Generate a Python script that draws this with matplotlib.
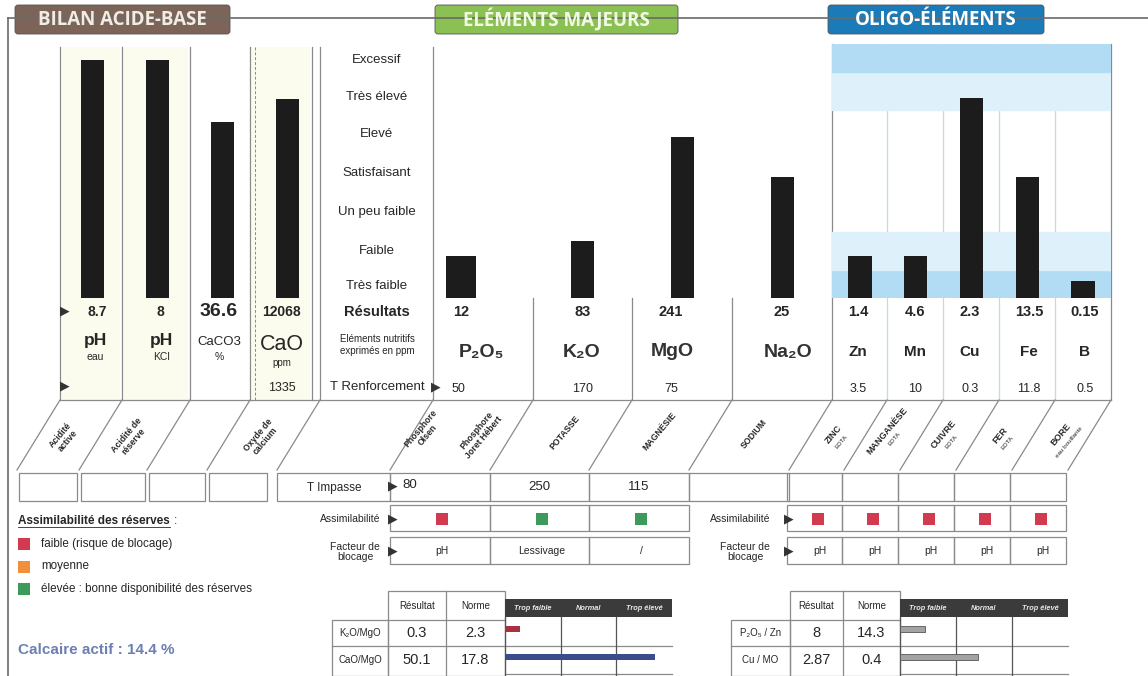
import matplotlib
matplotlib.use('Agg')
import matplotlib.pyplot as plt
from matplotlib.patches import Rectangle, FancyBboxPatch

plt.rcParams['font.family'] = ['Liberation Sans', 'DejaVu Sans']

W, H = 1148, 676

# ---- données ----
levels = ['Excessif', 'Très élevé', 'Elevé', 'Satisfaisant',
          'Un peu faible', 'Faible', 'Très faible']
level_pos = [93.7, 79.1, 64.6, 49.2, 33.9, 18.5, 4.7]   # échelle 0-100

acid_results = ['8.7', '8', '36.6', '12068']
acid_index = [93.7, 93.7, 69.3, 78.3]

maj_names = ['P₂O₅', 'K₂O', 'MgO', 'Na₂O']
maj_results = ['12', '83', '241', '25']
maj_index = [16.5, 22.4, 63.4, 47.6]
maj_renfort = ['50', '170', '75', '']
maj_impasse = ['80', '250', '115']
maj_assim = ['faible', 'élevée', 'élevée']
maj_blocage = ['pH', 'Lessivage', '/']

oligo_names = ['Zn', 'Mn', 'Cu', 'Fe', 'B']
oligo_results = ['1.4', '4.6', '2.3', '13.5', '0.15']
oligo_index = [16.5, 16.5, 78.7, 47.6, 6.7]
oligo_renfort = ['3.5', '10', '0.3', '11.8', '0.5']
oligo_assim = ['faible'] * 5
oligo_blocage = ['pH'] * 5

ratio_maj = ['K₂O/MgO', 'CaO/MgO']
ratio_maj_res = ['0.3', '50.1']
ratio_maj_norme = ['2.3', '17.8']
ratio_maj_pos = [0.27, 2.7]        # 0-1 trop faible, 1-2 normal, 2-3 trop élevé
ratio_oligo = ['P₂O₅ / Zn', 'Cu / MO']
ratio_oligo_res = ['8', '2.87']
ratio_oligo_norme = ['14.3', '0.4']
ratio_oligo_pos = [0.45, 1.4]

assim_colors = {'faible': '#d23a50', 'moyenne': '#f0903c', 'élevée': '#3c9a5c'}

# ---- figure ----
fig = plt.figure(figsize=(W / 100, H / 100), dpi=100)
ax = fig.add_axes([0, 0, 1, 1])
ax.set_xlim(0, W)
ax.set_ylim(H, 0)
ax.axis('off')

TXT = '#262626'
LINE = '#8a8a8a'


def px_axes(x0, y0, x1, y1):
    a = fig.add_axes([x0 / W, 1 - y1 / H, (x1 - x0) / W, (y1 - y0) / H])
    a.set_facecolor('none')
    for s in a.spines.values():
        s.set_visible(False)
    a.set_xticks([])
    a.set_yticks([])
    return a


def arrow(x, y, size=9):
    ax.text(x, y, '▶', ha='center', va='center', fontsize=size,
            color='#333333', family='DejaVu Sans')


def box(x0, y0, x1, y1, lw=0.9, color=LINE, fc='none'):
    ax.add_patch(Rectangle((x0, y0), x1 - x0, y1 - y0, fill=fc != 'none',
                           facecolor=fc, edgecolor=color, linewidth=lw))


def hline(y, x0, x1, lw=0.9, color=LINE):
    ax.plot([x0, x1], [y, y], color=color, lw=lw)


def vline(x, y0, y1, lw=0.9, color=LINE, ls='-'):
    ax.plot([x, x], [y0, y1], color=color, lw=lw, ls=ls)


# cadre général et onglets
hline(18, 8, W, lw=1.2, color='#6a6a6a')
vline(8, 18, H, lw=1.2, color='#6a6a6a')

tabs = [(15, 230, 'BILAN ACIDE-BASE', '#7c6558', '#f1ece6'),
        (435, 678, 'ELÉMENTS MAJEURS', '#8bc152', '#f2f9e4'),
        (828, 1044, 'OLIGO-ÉLÉMENTS', '#1b7bb8', '#ffffff')]
for x0, x1, lab, fc, tc in tabs:
    ax.add_patch(FancyBboxPatch((x0, 5), x1 - x0, 29,
                                boxstyle='round,pad=0,rounding_size=3',
                                facecolor=fc, edgecolor='#555555', lw=0.6))
    ax.text((x0 + x1) / 2, 20, lab, ha='center', va='center', fontsize=13.5,
            fontweight='bold', color=tc, family='Open Sans')

# colonnes
acid_cols = [(60, 122), (122, 190), (190, 250), (250, 312)]
maj_cols = [(433, 533), (533, 632), (632, 732), (732, 832)]
oligo_cols = [(832, 887), (887, 943), (943, 999), (999, 1055), (1055, 1111)]

for i in (0, 1, 3):
    a, b = acid_cols[i]
    ax.add_patch(Rectangle((a + 2, 47), b - a - 4, 353, facecolor='#fcfcee',
                           edgecolor='none'))

for xb in [60, 122, 190, 250, 312, 320, 433]:
    vline(xb, 47, 400)
vline(255, 47, 400, ls=(0, (3, 2)), lw=0.7)
for xb in [533, 632, 732]:
    vline(xb, 298, 400)
for xb in [832, 1111]:
    vline(xb, 44, 400)
for xb in [887, 943, 999, 1055]:
    vline(xb, 44, 400, color='#c5d8e4')
hline(400, 60, 1111)

# graphiques à barres
ax_acid = px_axes(60, 44, 320, 298)
ax_acid.bar(range(len(acid_index)), acid_index, width=0.36, color='#1c1c1c')
ax_acid.set_xlim(-0.5, 3.5)
ax_acid.set_ylim(0, 100)

ax_lev = px_axes(320, 44, 433, 298)
ax_lev.set_ylim(0, 100)
for lab, yp in zip(levels, level_pos):
    ax_lev.text(0.5, yp, lab, transform=ax_lev.get_yaxis_transform(),
                ha='center', va='center', fontsize=9.5, color=TXT)

ax_maj = px_axes(433, 44, 832, 298)
maj_x = [-0.22, 1, 2, 3]
maj_w = [0.3, 0.23, 0.23, 0.23]
ax_maj.bar(maj_x, maj_index, width=maj_w, color='#1c1c1c')
ax_maj.set_xlim(-0.5, 3.5)
ax_maj.set_ylim(0, 100)

ax_ol = px_axes(832, 44, 1111, 298)
for y0, y1, c in [(0, 11, '#b2dcf3'), (11, 26, '#def1fb'),
                  (74, 89, '#def1fb'), (89, 100, '#b2dcf3')]:
    ax_ol.axhspan(y0, y1, color=c, zorder=0)
ax_ol.bar(range(len(oligo_index)), oligo_index, width=0.42, color='#1c1c1c', zorder=2)
ax_ol.set_xlim(-0.5, 4.5)
ax_ol.set_ylim(0, 100)

# lignes de résultats
arrow(65, 311)
arrow(65, 386)
acid_fs = [10, 10, 14, 10]
acid_cx = [97, 160, 219, 281]
for cx, r, fs in zip(acid_cx, acid_results, acid_fs):
    ax.text(cx, 312, r, ha='center', va='center', fontsize=fs,
            fontweight='bold', color=TXT)
ax.text(95, 340, 'pH', ha='center', va='center', fontsize=12.5, fontweight='bold', color=TXT)
ax.text(95, 357, 'eau', ha='center', va='center', fontsize=7.5, color=TXT)
ax.text(161, 340, 'pH', ha='center', va='center', fontsize=12.5, fontweight='bold', color=TXT)
ax.text(161, 357, 'KCl', ha='center', va='center', fontsize=7.5, color=TXT)
ax.text(219, 342, 'CaCO3', ha='center', va='center', fontsize=9.5, color=TXT)
ax.text(219, 357, '%', ha='center', va='center', fontsize=7.5, color=TXT)
ax.text(282, 344, 'CaO', ha='center', va='center', fontsize=15.5, fontweight='medium',
        color=TXT)
ax.text(282, 363, 'ppm', ha='center', va='center', fontsize=7, color=TXT)
ax.text(282, 388, '1335', ha='center', va='center', fontsize=9, color=TXT)

ax.text(377, 312, 'Résultats', ha='center', va='center', fontsize=10.5,
        fontweight='bold', color=TXT)
ax.text(377, 345, 'Eléments nutritifs\nexprimés en ppm', ha='center', va='center',
        fontsize=7, color=TXT, linespacing=1.15)
ax.text(377, 387, 'T Renforcement', ha='center', va='center', fontsize=9.5, color=TXT)
arrow(436, 387)

maj_cx = [461, 583, 671, 782]
maj_name_cx = [481, 582, 672, 788]
for i in range(4):
    ax.text(maj_cx[i], 312, maj_results[i], ha='center', va='center',
            fontsize=10.5, fontweight='bold', color=TXT)
    ax.text(maj_name_cx[i], 352, maj_names[i], ha='center', va='center',
            fontsize=14, fontweight='bold', color='#333333')
    if maj_renfort[i]:
        ax.text(maj_cx[i] if i else 452, 389, maj_renfort[i],
                ha='center' if i else 'left', va='center', fontsize=9, color=TXT)

oligo_cx = [858, 915, 970, 1029, 1085]
for i in range(5):
    ax.text(oligo_cx[i], 312, oligo_results[i], ha='center', va='center',
            fontsize=10.5, fontweight='bold', color=TXT)
    ax.text(oligo_cx[i], 352, oligo_names[i], ha='center', va='center',
            fontsize=11, fontweight='bold', color=TXT)
    ax.text(oligo_cx[i], 389, oligo_renfort[i], ha='center', va='center',
            fontsize=9, color=TXT)

# étiquettes inclinées
SH = 43
for xb in [60, 122, 190, 250, 320, 433, 533, 632, 732, 832, 887, 943, 999, 1055, 1111]:
    ax.plot([xb, xb - SH], [400, 470], color=LINE, lw=0.9)

slanted = [(64, 438, 'Acidité\nactive', ''), (130, 438, 'Acidité de\nréserve', ''),
           (262, 438, 'Oxyde de\ncalcium', ''), (424, 432, 'Phosphore\nOlsen', ''),
           (480, 434, 'Phosphore\nJoret Hébert', ''), (565, 433, 'POTASSE', ''),
           (660, 431, 'MAGNÉSIE', ''), (754, 434, 'SODIUM', ''),
           (836, 436, 'ZINC', 'EDTA'), (889, 433, 'MANGANÈSE', 'EDTA'),
           (946, 436, 'CUIVRE', 'EDTA'), (1002, 437, 'FER', 'EDTA'),
           (1063, 436, 'BORE', 'eau bouillante')]
for x, y, main, sub in slanted:
    if sub:
        ax.text(x - 2, y - 2, main, ha='center', va='center', rotation=50,
                fontsize=6.5, fontweight='bold', color=TXT, rotation_mode='anchor')
        ax.text(x + 6, y + 6, sub, ha='center', va='center', rotation=50,
                fontsize=4.5, color=TXT, rotation_mode='anchor')
    else:
        ax.text(x, y, main, ha='center', va='center', rotation=50, fontsize=6.3,
                fontweight='bold', color=TXT, rotation_mode='anchor', linespacing=1.1)

# lignes inférieures
for a, b in acid_cols:
    box(a - SH + 2, 473, b - SH - 2, 501)
box(277, 473, 390, 501)
ax.text(334, 488, 'T Impasse', ha='center', va='center', fontsize=8.5, color=TXT)
arrow(393, 486)
for i, (a, b) in enumerate(maj_cols):
    box(a - SH, 473, b - SH, 501)
for i, v in enumerate(maj_impasse):
    a, b = maj_cols[i]
    if i == 0:
        ax.text(402, 485, v, ha='left', va='center', fontsize=9.5, color=TXT)
    else:
        ax.text((a + b) / 2 - SH, 487, v, ha='center', va='center', fontsize=9.5, color=TXT)
for a, b in oligo_cols:
    box(a - SH - 2, 473, b - SH - 2, 501)

ax.text(380, 519, 'Assimilabilité', ha='right', va='center', fontsize=7.5, color=TXT)
arrow(393, 519)
ax.text(380, 552, 'Facteur de\nblocage', ha='right', va='center', fontsize=7.5,
        color=TXT, multialignment='center', linespacing=1.0)
arrow(393, 551)
for i in range(3):
    a, b = maj_cols[i]
    box(a - SH, 505, b - SH, 531)
    box(a - SH, 537, b - SH, 564)
    cx = (a + b) / 2 - SH + 2
    ax.add_patch(Rectangle((cx - 6, 513), 12, 12, facecolor=assim_colors[maj_assim[i]],
                           edgecolor='none'))
    ax.text(cx, 551, maj_blocage[i], ha='center', va='center', fontsize=7.5, color=TXT)

ax.text(770, 519, 'Assimilabilité', ha='right', va='center', fontsize=7.5, color=TXT)
arrow(789, 519)
ax.text(745, 552, 'Facteur de\nblocage', ha='center', va='center', fontsize=7.5,
        color=TXT, linespacing=1.0)
arrow(789, 551)
for i in range(5):
    a, b = oligo_cols[i]
    box(a - SH - 2, 505, b - SH - 2, 531)
    box(a - SH - 2, 537, b - SH - 2, 564)
    cx = (a + b) / 2 - SH + 1
    ax.add_patch(Rectangle((cx - 6, 513), 12, 12, facecolor=assim_colors[oligo_assim[i]],
                           edgecolor='none'))
    ax.text(cx + 2, 551, oligo_blocage[i], ha='center', va='center', fontsize=7.5, color=TXT)

# légende assimilabilité
ax.text(18, 521, 'Assimilabilité des réserves', ha='left', va='center', fontsize=8.5,
        fontweight='bold', color=TXT)
hline(527, 18, 170, lw=0.6, color=TXT)
ax.text(174, 521, ':', ha='left', va='center', fontsize=8.5, color=TXT)
leg = [('faible', 'faible (risque de blocage)'), ('moyenne', 'moyenne'),
       ('élevée', 'élevée : bonne disponibilité des réserves')]
for k, (key, lab) in enumerate(leg):
    y = 544 + k * 22.5
    ax.add_patch(Rectangle((18, y - 6), 12, 12, facecolor=assim_colors[key], edgecolor='none'))
    ax.text(41, y, lab, ha='left', va='center', fontsize=8.4, color=TXT)

ax.text(18, 650, 'Calcaire actif : 14.4 %', ha='left', va='center', fontsize=11,
        fontweight='bold', color='#6d7fb3')


# tableaux de rapports
def ratio_table(xl, xr, xn, xh, xe, names, res, norme, pos, bar_colors, edge):
    # xl: bord gauche libellés, xr: début résultat, xn: début norme, xh: début bandeau
    box(xl, 620, xr, 676)
    hline(646, xl, xr)
    box(xr, 591, xh, 676)
    hline(620, xr, xh)
    hline(646, xr, xe)
    hline(674, xh, xe)
    vline(xn, 591, 676)
    ax.text((xr + xn) / 2, 606, 'Résultat', ha='center', va='center', fontsize=7, color=TXT)
    ax.text((xn + xh) / 2, 606, 'Norme', ha='center', va='center', fontsize=7, color=TXT)
    ax.add_patch(Rectangle((xh, 599), xe - xh, 18, facecolor='#3b3b3b', edgecolor='none'))
    step = (xe - xh) / 3
    for j, lab in enumerate(['Trop faible', 'Normal', 'Trop élevé']):
        ax.text(xh + step * (j + 0.5), 608, lab, ha='center', va='center', fontsize=5.3,
                style='italic', fontweight='bold', color='#e8e8e8')
    for j in (1, 2):
        vline(xh + step * j, 617, 676, color='#555555')
    vline(xh, 617, 676, color='#555555')
    for r in range(2):
        yc = 633 + r * 27
        ax.text((xl + xr) / 2, yc, names[r], ha='center', va='center', fontsize=7, color=TXT)
        ax.text((xr + xn) / 2, yc, res[r], ha='center', va='center', fontsize=10.5, color=TXT)
        ax.text((xn + xh) / 2, yc, norme[r], ha='center', va='center', fontsize=10.5, color=TXT)
    a = px_axes(xh, 615, xe, 671)
    a.barh([0, 1], pos, height=0.24, color=bar_colors, edgecolor=edge, lw=0.6)
    a.set_xlim(0, 3)
    a.set_ylim(1.5, -0.5)


ratio_table(332, 388, 446, 505, 672, ratio_maj, ratio_maj_res, ratio_maj_norme,
            ratio_maj_pos, ['#a8323f', '#3b4c8d'], 'none')
ratio_table(731, 790, 843, 900, 1068, ratio_oligo, ratio_oligo_res, ratio_oligo_norme,
            ratio_oligo_pos, ['#a3a3a3', '#a3a3a3'], '#555555')

fig.savefig('out.png', dpi=100, facecolor='white')
